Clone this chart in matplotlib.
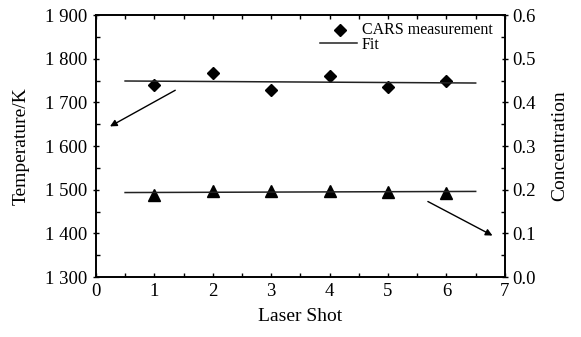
import numpy as np
import matplotlib
matplotlib.use("Agg")
import matplotlib.pyplot as plt
from matplotlib.ticker import FuncFormatter, MultipleLocator

plt.rcParams['font.family'] = ['Liberation Serif', 'DejaVu Serif']

# Measured values per laser shot
shots = [1, 2, 3, 4, 5, 6]
temperature = [1741, 1768, 1728, 1760, 1735, 1749]
concentration = [0.188, 0.198, 0.198, 0.197, 0.195, 0.193]
fit_range = [0.5, 6.5]


def thousands(v, pos):
    s = f"{int(round(v)):d}"
    return s[:-3] + " " + s[-3:] if len(s) > 3 else s


fig, ax = plt.subplots(figsize=(5.81, 3.37), dpi=100)
fig.subplots_adjust(left=0.165, right=0.869, top=0.955, bottom=0.178)
ax2 = ax.twinx()

# linear fits over the shot range
xf = np.array(fit_range)
t_fit = np.polyval(np.polyfit(shots, temperature, 1), xf)
c_fit = np.polyval(np.polyfit(shots, concentration, 1), xf)

ax.plot(shots, temperature, 'D', color='black', markersize=6.5)
ax.plot(xf, t_fit, '-', color='#222222', lw=1.1)
ax2.plot(shots, concentration, '^', color='black', markersize=8)
ax2.plot(xf, c_fit, '-', color='#222222', lw=1.1)

ax.set_xlim(0, 7)
ax.set_ylim(1300, 1900)
ax2.set_ylim(0.0, 0.6)

ax.xaxis.set_major_locator(MultipleLocator(1))
ax.xaxis.set_minor_locator(MultipleLocator(0.5))
ax.yaxis.set_major_locator(MultipleLocator(100))
ax.yaxis.set_minor_locator(MultipleLocator(50))
ax.yaxis.set_major_formatter(FuncFormatter(thousands))
ax2.yaxis.set_major_locator(MultipleLocator(0.1))
ax2.yaxis.set_minor_locator(MultipleLocator(0.05))
ax2.yaxis.set_major_formatter(FuncFormatter(lambda v, p: f"{v:.1f}"))

ax.tick_params(axis='x', which='both', direction='in', top=True, labelsize=13.5,
               length=3, width=1, pad=4)
ax.tick_params(axis='y', which='major', direction='inout', length=5, width=1,
               labelsize=13.5, pad=4)
ax.tick_params(axis='y', which='minor', direction='in', length=3, width=1)
ax2.tick_params(axis='y', which='major', direction='inout', length=5, width=1,
                labelsize=13.5, pad=3)
ax2.tick_params(axis='y', which='minor', direction='in', length=3, width=1)

for a in (ax, ax2):
    for sp in a.spines.values():
        sp.set_linewidth(1.2)

ax.set_xlabel('Laser Shot', fontsize=14, labelpad=6)
ax.set_ylabel('Temperature/K', fontsize=14, labelpad=11)
ax2.set_ylabel('Concentration', fontsize=14, labelpad=11)

# arrows pointing to the axis each series belongs to
ax.annotate('', xy=(0.2, 1642), xytext=(1.4, 1731),
            arrowprops=dict(arrowstyle='-|>', color='black', lw=1, mutation_scale=10))
ax2.annotate('', xy=(6.83, 0.092), xytext=(5.64, 0.176),
             arrowprops=dict(arrowstyle='-|>', color='black', lw=1, mutation_scale=10))

# compact legend drawn in axes coordinates
tr = ax.transAxes
ax.plot([0.597], [0.943], 'D', color='black', markersize=6, transform=tr, clip_on=False)
ax.text(0.650, 0.943, 'CARS measurement', transform=tr, fontsize=11.5, va='center', ha='left')
ax.plot([0.548, 0.638], [0.893, 0.893], '-', color='#222222', lw=1.1, transform=tr)
ax.text(0.650, 0.885, 'Fit', transform=tr, fontsize=11.5, va='center', ha='left')

fig.savefig('out.png', dpi=100)
